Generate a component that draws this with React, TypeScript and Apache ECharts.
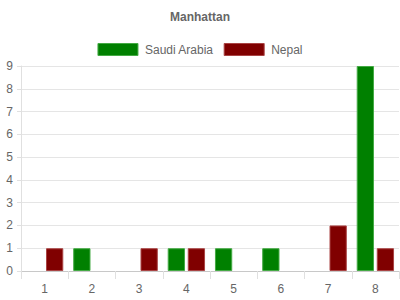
import React, { useEffect, useRef } from "react";
import * as echarts from "echarts";

const categories = ["1", "2", "3", "4", "5", "6", "7", "8"];
const saudiArabia = [0, 1, 0, 1, 1, 1, 0, 9];
const nepal = [1, 0, 1, 1, 0, 0, 2, 1];
const yTicks = { min: 0, max: 9, interval: 1 };

export default function App() {
  const ref = useRef<HTMLDivElement>(null);
  useEffect(() => {
    const chart = echarts.init(ref.current!, null, { renderer: "svg" });
    const font = "'Liberation Sans', Arial, Helvetica, sans-serif";
    const hideZero = (arr: number[]) => arr.map((v) => (v === 0 ? "-" : v));
    chart.setOption({
      animation: false,
      textStyle: { fontFamily: font },
      title: {
        text: "Manhattan",
        left: "center",
        top: 6,
        textStyle: { fontSize: 12, fontWeight: "bold", color: "#666", fontFamily: font },
      },
      legend: {
        top: 38,
        left: "center",
        icon: "rect",
        itemWidth: 40,
        itemHeight: 12,
        itemGap: 10,
        textStyle: { fontSize: 12, color: "#666", fontFamily: font, padding: [0, 0, 0, 2] },
        data: [
          { name: "Saudi Arabia", itemStyle: { color: "#008000", borderColor: "#44aa44", borderWidth: 1 } },
          { name: "Nepal", itemStyle: { color: "#800000", borderColor: "#aa4444", borderWidth: 1 } },
        ],
      },
      grid: { left: 21, right: 1, top: 66, bottom: 29, containLabel: false },
      xAxis: {
        type: "category",
        data: categories,
        axisLine: { show: true, lineStyle: { color: "#c8c8c8" } },
        axisTick: { show: true, length: 8, alignWithLabel: false, lineStyle: { color: "#e0e0e0" } },
        axisLabel: { color: "#666", fontSize: 12, margin: 12, fontFamily: font },
        splitLine: { show: false },
      },
      yAxis: {
        type: "value",
        min: yTicks.min,
        max: yTicks.max,
        interval: yTicks.interval,
        axisLine: { show: true, lineStyle: { color: "#e0e0e0" } },
        axisTick: { show: true, length: 4, lineStyle: { color: "#e0e0e0" } },
        axisLabel: { color: "#666", fontSize: 12, margin: 8, fontFamily: font },
        splitLine: { show: true, lineStyle: { color: "#e5e5e5" } },
      },
      series: [
        {
          name: "Saudi Arabia",
          type: "bar",
          data: hideZero(saudiArabia),
          barCategoryGap: "21%",
          barGap: "16%",
          itemStyle: { color: "#008000", borderColor: "#44aa44", borderWidth: 1 },
        },
        {
          name: "Nepal",
          type: "bar",
          data: hideZero(nepal),
          barCategoryGap: "21%",
          barGap: "16%",
          itemStyle: { color: "#800000", borderColor: "#aa4444", borderWidth: 1 },
        },
      ],
    });
    return () => chart.dispose();
  }, []);
  return <div ref={ref} style={{ width: 400, height: 300, position: "absolute", left: 0, top: 0 }} />;
}
